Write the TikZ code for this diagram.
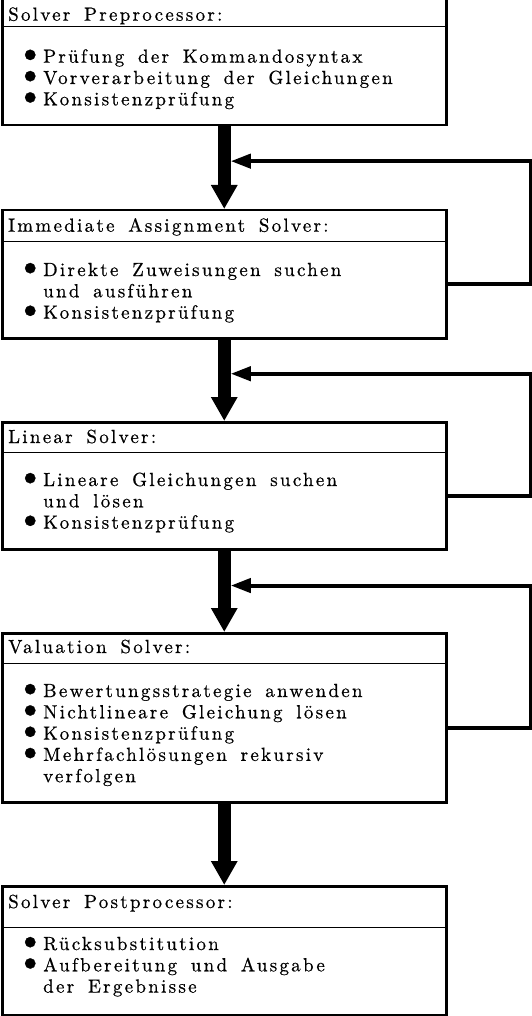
\documentclass[tikz,border=0pt]{standalone}
\usepackage{fontspec}
\newfontfamily\plotfont{lmroman10-regular.otf}[LetterSpace=12,WordSpace=1.6,FakeBold=0.6]
\newcommand{\itembullet}{\makebox[19pt][l]{\hspace{-8pt}\raisebox{-0.5pt}{\scalebox{1.9}{\textbullet}}}}
\usetikzlibrary{arrows.meta, positioning, calc}

\begin{document}
\begin{tikzpicture}[
    x=1pt, y=-1pt,
    stage/.style={rectangle, draw=black, line width=2.5pt, minimum width=444pt, anchor=north west, inner sep=0pt},
    headline/.style={anchor=base west, inner sep=0pt, font=\plotfont\fontsize{19}{21.3}\selectfont},
    items/.style={anchor=base west, inner sep=0pt, align=left, font=\plotfont\fontsize{19}{21.3}\selectfont},
    divider/.style={line width=1pt},
    flow/.style={line width=13pt, -{Triangle[length=24pt, width=25pt]}},
    loopback/.style={line width=4pt, -{Triangle[length=20pt, width=14pt]}}
]
\useasboundingbox (0,0) rectangle (531,1016);

% Stages
\node[stage, minimum height=126pt] (pre) at (1,-2) {};
\node[stage, minimum height=128pt] (imm) at (1,209) {};
\node[stage, minimum height=127pt] (lin) at (1,421) {};
\node[stage, minimum height=169pt] (val) at (1,632) {};
\node[stage, minimum height=129pt] (post) at (1,885) {};

% Title dividers
\draw[divider] ([yshift=-29pt]pre.north west) -- ([yshift=-29pt]pre.north east);
\draw[divider] ([yshift=-32pt]imm.north west) -- ([yshift=-32pt]imm.north east);
\draw[divider] ([yshift=-31pt]lin.north west) -- ([yshift=-31pt]lin.north east);
\draw[divider] ([yshift=-31pt]val.north west) -- ([yshift=-31pt]val.north east);
\draw[divider] ([yshift=-42pt]post.north west) -- ([yshift=-42pt]post.north east);

% Titles
\node[headline] (pretitle) at (8,20.7) {Solver Preprocessor:};
\node[headline] (immtitle) at (8,231.7) {Immediate Assignment Solver:};
\node[headline] (lintitle) at (8,443) {Linear Solver:};
\node[headline] (valtitle) at (8,653) {Valuation Solver:};
\node[headline] (posttitle) at (8,908) {Solver Postprocessor:};

% Task lists
\node[items] (prelist) at (24,62.7) {\begin{tabular}[t]{@{}l@{}l@{}}
  \itembullet & Prüfung der Kommandosyntax\\
  \itembullet & Vorverarbeitung der Gleichungen\\
  \itembullet & Konsistenzprüfung\end{tabular}};
\node[items] (immlist) at (24,276) {\begin{tabular}[t]{@{}l@{}l@{}}
  \itembullet & Direkte Zuweisungen suchen\\
  & und ausführen\\
  \itembullet & Konsistenzprüfung\end{tabular}};
\node[items] (linlist) at (24,486) {\begin{tabular}[t]{@{}l@{}l@{}}
  \itembullet & Lineare Gleichungen suchen\\
  & und lösen\\
  \itembullet & Konsistenzprüfung\end{tabular}};
\node[items] (vallist) at (24,697) {\begin{tabular}[t]{@{}l@{}l@{}}
  \itembullet & Bewertungsstrategie anwenden\\
  \itembullet & Nichtlineare Gleichung lösen\\
  \itembullet & Konsistenzprüfung\\
  \itembullet & Mehrfachlösungen rekursiv\\
  & verfolgen\end{tabular}};
\node[items] (postlist) at (24,950) {\begin{tabular}[t]{@{}l@{}l@{}}
  \itembullet & Rücksubstitution\\
  \itembullet & Aufbereitung und Ausgabe\\
  & der Ergebnisse\end{tabular}};

% Junctions on the main flow
\coordinate (join1) at ($(pre.south)!0.42!(imm.north)$);
\coordinate (join2) at ($(imm.south)!0.42!(lin.north)$);
\coordinate (join3) at ($(lin.south)!0.43!(val.north)$);

% Main flow
\draw[flow] (pre) -- (imm);
\draw[flow] (imm) -- (lin);
\draw[flow] (lin) -- (val);
\draw[flow] (val) -- (post);

% Feedback loops
\draw[loopback] ([yshift=-10pt]imm.east) -- ++(83,0) |- ([xshift=6.5pt]join1);
\draw[loopback] ([yshift=-10pt]lin.east) -- ++(83,0) |- ([xshift=6.5pt]join2);
\draw[loopback] ([yshift=-10pt]val.east) -- ++(83,0) |- ([xshift=6.5pt]join3);

\end{tikzpicture}
\end{document}
